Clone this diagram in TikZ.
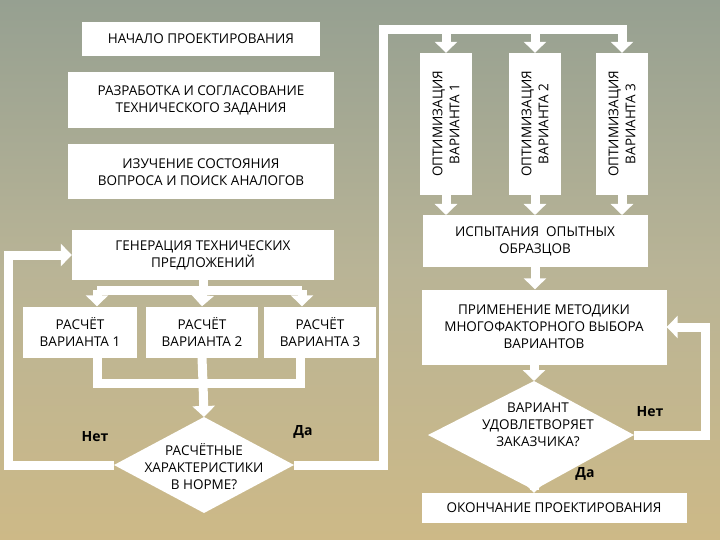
\documentclass[tikz,border=0pt]{standalone}
\usepackage{fontspec}
\setmainfont{Open Sans}
\usetikzlibrary{shapes.geometric,arrows.meta}
\begin{document}
\begin{tikzpicture}[x=1pt,y=-1pt,
  box/.style={fill=white,align=center,inner sep=0pt,font=\fontsize{13.5}{17}\selectfont,text=black},
  dtext/.style={align=center,inner sep=0pt,font=\fontsize{13.5}{17}\selectfont,text=black},
  flow/.style={draw=white,line width=9pt,line join=miter},
  arr/.style={flow,-{Triangle[width=22pt,length=11pt]}},
  lbl/.style={font=\bfseries\fontsize{14}{16}\selectfont,text=black}]
\useasboundingbox (0,0) rectangle (720,540);
\shade[top color={rgb,255:red,150;green,160;blue,145}, bottom color={rgb,255:red,205;green,185;blue,135}, middle color={rgb,255:red,185;green,180;blue,150}] (0,0) rectangle (720,540);
% diamond corners
\coordinate (d1n) at (204,417); \coordinate (d1s) at (204,513);
\coordinate (d1w) at (114,465); \coordinate (d1e) at (294,465);
\coordinate (d2n) at (534,381); \coordinate (d2s) at (534,490);
\coordinate (d2w) at (428,435); \coordinate (d2e) at (634,435);
\fill[white] (d1n) -- (d1e) -- (d1s) -- (d1w) -- cycle;
\fill[white] (d2n) -- (d2e) -- (d2s) -- (d2w) -- cycle;
% left column
\node[box,minimum width=238pt,minimum height=34pt] (start) at (201,39) {НАЧАЛО ПРОЕКТИРОВАНИЯ};
\node[box,minimum width=266pt,minimum height=56pt] (tz) at (201,100) {РАЗРАБОТКА И СОГЛАСОВАНИЕ\\ТЕХНИЧЕСКОГО ЗАДАНИЯ};
\node[box,minimum width=266pt,minimum height=55pt] (iz) at (201,172) {ИЗУЧЕНИЕ СОСТОЯНИЯ\\ВОПРОСА И ПОИСК АНАЛОГОВ};
\node[box,minimum width=262pt,minimum height=50pt] (gen) at (203,255) {ГЕНЕРАЦИЯ ТЕХНИЧЕСКИХ\\ПРЕДЛОЖЕНИЙ};
\node[box,minimum width=114pt,minimum height=51pt] (r1) at (80,332) {РАСЧЁТ\\ВАРИАНТА 1};
\node[box,minimum width=112pt,minimum height=51pt] (r2) at (202,332) {РАСЧЁТ\\ВАРИАНТА 2};
\node[box,minimum width=112pt,minimum height=51pt] (r3) at (320,332) {РАСЧЁТ\\ВАРИАНТА 3};
\node[dtext] (d1) at (204,467) {РАСЧЁТНЫЕ\\ХАРАКТЕРИСТИКИ\\В НОРМЕ?};
% right column
\node[box,rotate=90,minimum width=142pt,minimum height=52pt] (o1) at (446,124) {ОПТИМИЗАЦИЯ\\ВАРИАНТА 1};
\node[box,rotate=90,minimum width=142pt,minimum height=52pt] (o2) at (535,124) {ОПТИМИЗАЦИЯ\\ВАРИАНТА 2};
\node[box,rotate=90,minimum width=142pt,minimum height=52pt] (o3) at (622,124) {ОПТИМИЗАЦИЯ\\ВАРИАНТА 3};
\node[box,minimum width=225pt,minimum height=52pt] (isp) at (535,241) {ИСПЫТАНИЯ\ \ ОПЫТНЫХ\\ОБРАЗЦОВ};
\node[box,minimum width=245pt,minimum height=75pt] (prim) at (544,327) {ПРИМЕНЕНИЕ МЕТОДИКИ\\МНОГОФАКТОРНОГО ВЫБОРА\\ВАРИАНТОВ};
\node[dtext] (d2) at (538,425) {ВАРИАНТ\\УДОВЛЕТВОРЯЕТ\\ЗАКАЗЧИКА?};
\node[box,minimum width=265pt,minimum height=30pt] (end) at (554,508) {ОКОНЧАНИЕ ПРОЕКТИРОВАНИЯ};
% coordinates
\coordinate (g1) at (97,290);
\coordinate (gsplit) at (203,290);
\coordinate (g3) at (302,290);
\coordinate (join) at (203,383);
\coordinate (b1) at (97,383);
\coordinate (b3) at (300,383);
\coordinate (lcorner) at (8,255);
\coordinate (topL) at (383,30);
\coordinate (topR) at (622,30);
\coordinate (t1) at (446,30);
\coordinate (t2) at (535,30);
\coordinate (i1) at (446,215);
\coordinate (i2) at (535,215);
\coordinate (i3) at (622,215);
\coordinate (rcorner) at (705,327);
% left flows
\draw[flow] (g1) -- (g3);
\draw[flow] (gen.south) -- (gsplit);
\draw[arr] (g1) -- (g1 |- r1.north);
\draw[arr] (gsplit) -- (r2.north);
\draw[arr] (g3) -- (g3 |- r3.north);
\draw[flow] (b1 |- r1.south) -- (b1) -- (b3) -- (b3 |- r3.south);
\draw[flow] (r2.south) -- (join);
\draw[arr] (join) -- (d1n);
\draw[arr] (d1w) -| (lcorner) -- (gen.west);
\draw[flow] (d1e) -| (topL) -- ([xshift=4.5pt]topR);
\draw[arr] (t1) -- (o1.east);
\draw[arr] (t2) -- (o2.east);
\draw[arr] (topR) -- (o3.east);
\draw[arr] (o1.west) -- (i1);
\draw[arr] (o2.west) -- (i2);
\draw[arr] (o3.west) -- (i3);
\draw[arr] (isp.south) -- (isp.south |- prim.north);
\draw[arr] (prim.south -| d2n) -- (d2n);
\draw[arr] (d2e) -| (rcorner) -- (prim.east);
\draw[arr] (d2s) -- (d2s |- end.north);
% labels
\node[lbl] (no1) at (95,437) {Нет};
\node[lbl] (yes1) at (303,432) {Да};
\node[lbl] (no2) at (650,412) {Нет};
\node[lbl] (yes2) at (585,474) {Да};
\end{tikzpicture}
\end{document}
